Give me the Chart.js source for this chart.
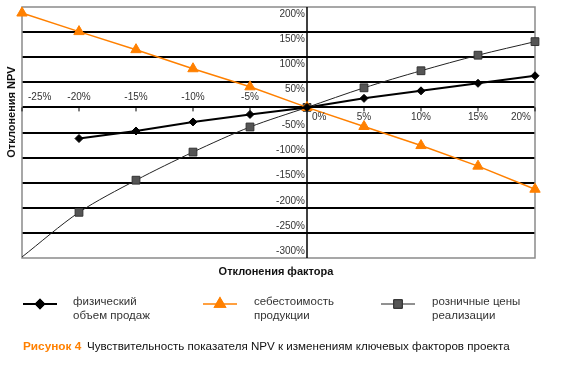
<!DOCTYPE html>
<html>
<head>
<meta charset="utf-8">
<script src="https://cdn.jsdelivr.net/npm/chart.js@4/dist/chart.umd.min.js"></script>
<style>
  html, body { margin: 0; padding: 0; background: #fff; }
  canvas { display: block; }
</style>
</head>
<body>
<canvas id="chart" width="579" height="368"></canvas>
<script>
// factor deviation, %
const factorDeviation = [-25, -20, -15, -10, -5, 0, 5, 10, 15, 20]
// NPV deviation, %
const salesVolume = [null, -62, -47, -29, -14, 0, 18, 33, 48, 63]
const productionCost = [188, 151, 115, 77, 41, 0, -38, -76, -117, -163]
const retailPrice = [-298, -209, -145, -89, -39, 0, 39, 73, 104, 131]

const yTicks = [200, 150, 100, 50, -50, -100, -150, -200, -250, -300]
const xTicks = [-25, -20, -15, -10, -5, 0, 5, 10, 15, 20]

const seriesNames = [
  ['физический', 'объем продаж'],
  ['себестоимость', 'продукции'],
  ['розничные цены', 'реализации']
]
const xTitle = 'Отклонения фактора'
const yTitle = 'Отклонения NPV'
const captionLead = 'Рисунок 4'
const captionText = 'Чувствительность показателя NPV к изменениям ключевых факторов проекта'

const ORANGE = '#ff8000'
const FONT = '"Liberation Sans", Arial, sans-serif'

const toPoints = (vals) => factorDeviation.map((x, i) => ({ x, y: vals[i] })).filter(p => p.y !== null)

const decorations = {
  id: 'decorations',
  beforeDatasetsDraw(chart) {
    const { ctx, chartArea: a, scales: { x, y } } = chart
    ctx.save()
    // frame
    ctx.strokeStyle = '#8a8a8a'
    ctx.lineWidth = 1.5
    ctx.strokeRect(a.left, a.top, a.right - a.left, a.bottom - a.top)
    // axes through zero
    const x0 = x.getPixelForValue(0)
    const y0 = y.getPixelForValue(0)
    ctx.strokeStyle = '#000'
    ctx.lineWidth = 1.5
    ctx.beginPath()
    ctx.moveTo(x0, a.top)
    ctx.lineTo(x0, a.bottom)
    ctx.stroke()
    ctx.lineWidth = 1
    xTicks.forEach(v => {
      const px = x.getPixelForValue(v)
      ctx.beginPath()
      ctx.moveTo(px, y0)
      ctx.lineTo(px, y0 + 4)
      ctx.stroke()
    })
    ctx.restore()
  },
  afterDraw(chart) {
    const { ctx, chartArea: a, scales: { x, y } } = chart
    const x0 = x.getPixelForValue(0)
    const y0 = y.getPixelForValue(0)
    ctx.save()
    ctx.fillStyle = '#333'
    ctx.font = '10px ' + FONT
    ctx.textBaseline = 'middle'

    // y tick labels next to the zero axis
    ctx.textAlign = 'right'
    yTicks.forEach(v => {
      const py = y.getPixelForValue(v) + (v > 0 ? 7 : -7)
      ctx.fillText(v + '%', x0 - 2, py)
    })

    // x tick labels: negatives above the axis, rest below
    xTicks.forEach(v => {
      const label = v + '%'
      const w = ctx.measureText(label).width
      let px = x.getPixelForValue(v) - w / 2
      if (v === 0) px = x0 + 5
      px = Math.max(a.left + 6, Math.min(a.right - 4 - w, px))
      ctx.textAlign = 'left'
      ctx.fillText(label, px, v < 0 ? y0 - 10 : y0 + 10)
    })

    // axis titles
    ctx.fillStyle = '#111'
    ctx.font = 'bold 11px ' + FONT
    ctx.textAlign = 'center'
    ctx.fillText(xTitle, 276, 272)
    ctx.save()
    ctx.translate(12, 112)
    ctx.rotate(-Math.PI / 2)
    ctx.fillText(yTitle, 0, 0)
    ctx.restore()

    // legend
    const slots = [{ x: 23, tx: 73 }, { x: 203, tx: 254 }, { x: 381, tx: 432 }]
    chart.data.datasets.forEach((ds, i) => {
      const s = slots[i]
      const ly = 304
      ctx.strokeStyle = ds.borderColor
      ctx.lineWidth = ds.borderWidth
      ctx.beginPath()
      ctx.moveTo(s.x, ly)
      ctx.lineTo(s.x + 34, ly)
      ctx.stroke()
      Chart.helpers.drawPoint(ctx, {
        pointStyle: ds.pointStyle,
        radius: ds.legendRadius,
        borderWidth: 1,
        rotation: 0
      }, s.x + 17, ly)
      ctx.fillStyle = ds.pointBackgroundColor
      ctx.strokeStyle = ds.pointBorderColor
      ctx.fill()
      ctx.stroke()
      ctx.fillStyle = '#333'
      ctx.font = '11.5px ' + FONT
      ctx.textAlign = 'left'
      ctx.fillText(seriesNames[i][0], s.tx, 302)
      ctx.fillText(seriesNames[i][1], s.tx, 316)
    })

    // caption
    ctx.font = 'bold 11.8px ' + FONT
    ctx.fillStyle = ORANGE
    ctx.textAlign = 'left'
    ctx.fillText(captionLead, 23, 347)
    ctx.font = '11.6px ' + FONT
    ctx.fillStyle = '#111'
    ctx.fillText(captionText, 87, 347)
    ctx.restore()
  }
}

new Chart(document.getElementById('chart'), {
  type: 'line',
  data: {
    datasets: [
      {
        label: seriesNames[0].join(' '),
        data: toPoints(salesVolume),
        borderColor: '#000',
        borderWidth: 2,
        pointStyle: 'rectRot',
        pointRadius: 4,
        legendRadius: 4,
        pointBackgroundColor: '#000',
        pointBorderColor: '#000',
        pointBorderWidth: 1,
        tension: 0,
        clip: false
      },
      {
        label: seriesNames[1].join(' '),
        data: toPoints(productionCost),
        borderColor: ORANGE,
        borderWidth: 1.5,
        pointStyle: 'triangle',
        pointRadius: 6,
        legendRadius: 6,
        pointBackgroundColor: ORANGE,
        pointBorderColor: ORANGE,
        pointBorderWidth: 1,
        tension: 0,
        clip: false
      },
      {
        label: seriesNames[2].join(' '),
        data: toPoints(retailPrice),
        borderColor: '#222',
        borderWidth: 1,
        pointStyle: 'rect',
        pointRadius: retailPrice.map((v, i) => i === 0 ? 0 : 5.5),
        legendRadius: 6,
        pointBackgroundColor: '#555',
        pointBorderColor: '#333',
        pointBorderWidth: 1,
        tension: 0.3,
        clip: false
      }
    ]
  },
  options: {
    responsive: false,
    animation: false,
    devicePixelRatio: 1,
    layout: { padding: { left: 22, top: 7, right: 44, bottom: 110 } },
    plugins: {
      legend: { display: false },
      tooltip: { enabled: false }
    },
    scales: {
      x: {
        type: 'linear',
        display: false,
        min: -25,
        max: 20
      },
      y: {
        min: -300,
        max: 200,
        ticks: { display: false, stepSize: 50 },
        border: { display: false },
        grid: {
          drawTicks: false,
          color: (c) => (c.tick && (c.tick.value === 200 || c.tick.value === -300)) ? 'rgba(0,0,0,0)' : '#000',
          lineWidth: 2
        }
      }
    }
  },
  plugins: [decorations]
})
</script>
</body>
</html>
